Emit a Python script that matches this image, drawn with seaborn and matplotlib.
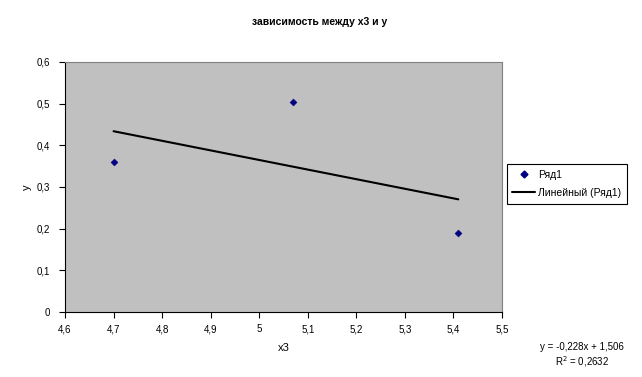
import matplotlib
matplotlib.use("Agg")
import matplotlib.pyplot as plt
import seaborn as sns
import numpy as np
import pandas as pd
from matplotlib.ticker import FuncFormatter, MultipleLocator
from matplotlib.lines import Line2D

x_vals = [4.70, 5.07, 5.41]
y_vals = [0.36, 0.503, 0.19]
series_name = "Ряд1"
trend_name = "Линейный (Ряд1)"
title = "зависимость между х3 и у"
eq_text = "y = -0,228x + 1,506"
r2_text = "R$^2$ = 0,2632"

sns.set_theme(style="white")
plt.rcParams['font.family'] = ['Liberation Sans', 'DejaVu Sans']
plt.rcParams['text.color'] = 'black'
plt.rcParams['axes.labelcolor'] = 'black'
plt.rcParams['xtick.color'] = 'black'
plt.rcParams['ytick.color'] = 'black'

df = pd.DataFrame({"x3": x_vals, "y": y_vals})

fig = plt.figure(figsize=(6.42, 3.77), dpi=100)
ax = fig.add_axes([65/642, 1-312/377, (502-65)/642, (312-62)/377])
ax.set_facecolor("#C0C0C0")

sns.regplot(data=df, x="x3", y="y", ci=None, truncate=True, ax=ax,
            scatter=False, line_kws=dict(color="black", lw=1.5))
sns.scatterplot(data=df, x="x3", y="y", marker="D", s=13, color="#000080",
                edgecolor="#000080", ax=ax, zorder=3)

ax.set_xlim(4.6, 5.5)
ax.set_ylim(0, 0.6)
ax.xaxis.set_major_locator(MultipleLocator(0.1))
ax.yaxis.set_major_locator(MultipleLocator(0.1))
fmt = FuncFormatter(lambda v, p: (("%.1f" % v).rstrip("0").rstrip(".") if abs(v - round(v)) > 1e-9 else "%d" % round(v)).replace(".", ","))
ax.xaxis.set_major_formatter(fmt)
ax.yaxis.set_major_formatter(fmt)
ax.tick_params(axis="both", which="major", labelsize=7, length=4, width=0.8,
               direction="out", bottom=True, left=True, color="black", pad=5)
ax.tick_params(axis="y", pad=7)
for s in ["left", "bottom"]:
    ax.spines[s].set_color("black")
    ax.spines[s].set_linewidth(0.8)
for s in ["top", "right"]:
    ax.spines[s].set_color("#808080")
    ax.spines[s].set_linewidth(0.8)

ax.set_xlabel("x3", fontsize=8, labelpad=6)
ax.set_ylabel("y", fontsize=8)
ax.yaxis.set_label_coords(-0.075, 0.5)
fig.text(320/642, 1-22/377, title, ha="center", va="center", fontsize=7.5, fontweight="bold")

handles = [Line2D([], [], marker="D", color="#000080", ls="none", markersize=3.5),
           Line2D([], [], color="black", lw=1.5)]
leg = fig.legend(handles, [series_name, trend_name], loc="center",
                 bbox_to_anchor=(567/642, 1-184/377), fontsize=7.5, frameon=True,
                 fancybox=False, edgecolor="black", framealpha=1, borderpad=0.55,
                 handlelength=2.2, handletextpad=0.3, labelspacing=0.75)
leg.get_frame().set_linewidth(0.8)

fig.text(582/642, 1-347/377, eq_text, ha="center", va="center", fontsize=7)
fig.text(582/642, 1-362/377, r2_text, ha="center", va="center", fontsize=7)

fig.savefig("out.png", dpi=100, facecolor="white")
